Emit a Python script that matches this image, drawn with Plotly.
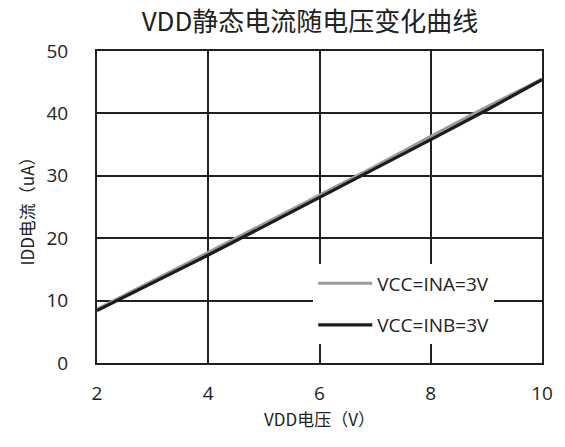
import plotly.graph_objects as go

vdd = [2, 3, 4, 5, 6, 7, 8, 9, 10]
idd_ina = [8.6, 13.1, 17.7, 22.3, 26.9, 31.5, 36.3, 41.0, 45.5]
idd_inb = [8.4, 12.8, 17.3, 21.9, 26.5, 31.1, 35.8, 40.5, 45.4]
series_names = ["VCC=INA=3V", "VCC=INB=3V"]

title_text = "VDD静态电流随电压变化曲线"
x_title = "VDD电压（V）"
y_title = "IDD电流（uA）"

CJK = "Noto Sans CJK SC"
LAT = "Open Sans"
GRID = "#231f20"

fig = go.Figure()
fig.add_trace(go.Scatter(x=vdd, y=idd_ina, mode="lines", name=series_names[0],
                         line=dict(color="#9a9a9a", width=3.2), legendgroup="a"))
fig.add_trace(go.Scatter(x=vdd, y=idd_inb, mode="lines", name=series_names[1],
                         line=dict(color="#1e1b1c", width=3.2), legendgroup="b"))

fig.update_layout(
    width=565, height=447,
    margin=dict(l=97, r=23, t=51, b=84, autoexpand=False),
    paper_bgcolor="white", plot_bgcolor="white",
    title=dict(text=title_text, x=310/565, xanchor="center", y=1 - 22/447, yanchor="middle",
               font=dict(family=CJK, size=26, color="#222")),
    xaxis=dict(range=[2, 10], dtick=2, tick0=2, showgrid=True, gridcolor=GRID, gridwidth=1.6,
               showline=True, linecolor=GRID, linewidth=2, mirror=True, zeroline=False,
               automargin=False,
               ticks="", tickfont=dict(family=LAT, size=19, color="#222"), ticklabelstandoff=12,
               title=dict(text=x_title, font=dict(family=CJK, size=17, color="#222"), standoff=4)),
    yaxis=dict(range=[0, 50], dtick=10, showgrid=True, gridcolor=GRID, gridwidth=1.6,
               showline=True, linecolor=GRID, linewidth=2, mirror=True, zeroline=False,
               automargin=False,
               ticks="", tickfont=dict(family=LAT, size=19, color="#222"), ticklabelstandoff=23,
               title=dict(text=y_title, font=dict(family=CJK, size=17, color="#222"), standoff=8)),
    legend=dict(x=0.486, y=0.316, xanchor="left", yanchor="top", bgcolor="white",
                borderwidth=0, font=dict(family=LAT, size=19, color="#222"),
                traceorder="grouped", tracegroupgap=14, itemwidth=54),
    showlegend=True,
)

fig.write_html("out.html", config={"displayModeBar": False},
               post_script="document.body.style.margin='0';document.body.style.overflow='hidden';")
